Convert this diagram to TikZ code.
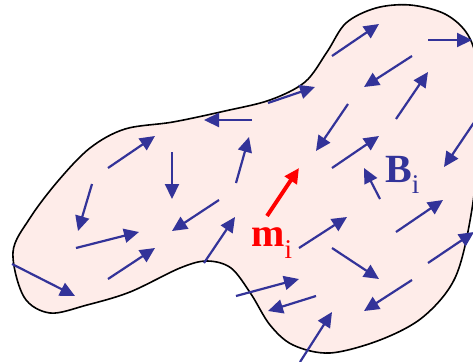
\documentclass[tikz,border=0pt]{standalone}
\usepackage{fontspec}
\setmainfont{Liberation Serif}
\usepackage{xcolor}
\usetikzlibrary{arrows.meta}

\definecolor{fieldblue}{RGB}{51,51,153}
\definecolor{blobfill}{RGB}{254,236,233}

\begin{document}
\begin{tikzpicture}[
  x=1pt, y=-1pt,
  blob/.style={
    draw=black,
    line width=1.6pt,
    fill=blobfill
  },
  vec/.style={-{Triangle[length=15pt,width=14pt]}, line width=2.2pt, draw=fieldblue},
  moment/.style={-{Triangle[length=15pt,width=14pt]}, line width=4pt, draw=red},
  lbl/.style={
    anchor=base west,
    inner sep=0pt,
    font=\fontsize{40}{40}\selectfont\bfseries
  }
]
\useasboundingbox (0,0) rectangle (473,361);

% magnetised body
\draw[blob] plot[smooth cycle, tension=0.55] coordinates {
  (13,252) (30,218) (58,181) (90,148) (125,129) (173,122) (225,111)
  (270,100) (305,82) (327,52) (346,23) (376,8) (410,5) (445,14)
  (468,35) (478,70) (479,140) (471,215) (455,278) (423,317)
  (380,340) (330,353) (293,345) (270,325) (251,294) (231,268)
  (207,261) (180,268) (130,292) (87,305) (50,313) (24,297)
};

% local field vectors
\draw[vec] (108,168) -- (155,136);
\draw[vec] (252,120) -- (204,120);
\draw[vec] (172,152) -- (172,199);
\draw[vec] (332,56) -- (379,24);
\draw[vec] (428,40) -- (472,40);
\draw[vec] (412,56) -- (364,87);
\draw[vec] (396,119) -- (428,72);
\draw[vec] (268,103) -- (315,87);
\draw[vec] (348,104) -- (316,151);
\draw[vec] (332,168) -- (379,136);
\draw[vec] (475,121) -- (444,167);
\draw[vec] (236,183) -- (249,137);
\draw[vec] (219,200) -- (172,231);
\draw[vec] (204,263) -- (235,217);
\draw[vec] (380,199) -- (364,168);
\draw[vec] (396,232) -- (443,200);
\draw[vec] (299,248) -- (347,217);
\draw[vec] (428,263) -- (474,232);
\draw[vec] (332,248) -- (379,279);
\draw[vec] (412,280) -- (364,311);
\draw[vec] (236,296) -- (299,279);
\draw[vec] (316,296) -- (268,311);
\draw[vec] (300,362) -- (332,312);
\draw[vec] (92,184) -- (78,231);
\draw[vec] (76,248) -- (139,232);
\draw[vec] (108,279) -- (155,248);
\draw[vec] (12,264) -- (75,296);

% moment of particle i
\draw[moment] (267,216) -- (299,168);

\node[lbl, text=red] (mlabel) at (251,246)
  {m\raisebox{-12pt}{\fontsize{27}{27}\selectfont\mdseries i}};
\node[lbl, text=fieldblue] (Blabel) at (385,182)
  {B\raisebox{-11pt}{\fontsize{27}{27}\selectfont\mdseries i}};

\end{tikzpicture}
\end{document}
